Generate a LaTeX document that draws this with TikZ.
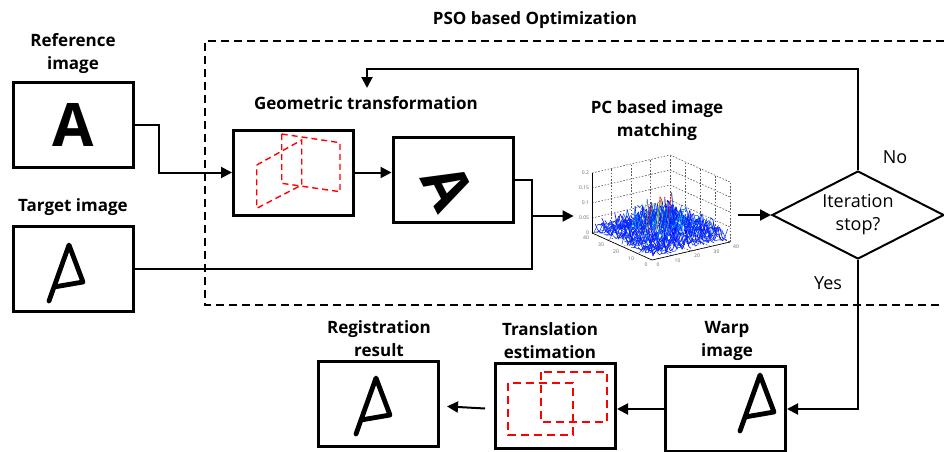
\documentclass[tikz,border=0pt]{standalone}
\usepackage{fontspec}
\setmainfont{Open Sans}
\usetikzlibrary{calc,positioning,arrows.meta,shapes.geometric}

\tikzset{
  imgbox/.style={draw, line width=1.5pt, minimum width=60pt, minimum height=42.5pt, inner sep=0pt},
  head/.style={font=\bfseries\fontsize{8.5}{11.5}\selectfont, align=center},
  plain/.style={font=\fontsize{9}{11.5}\selectfont, align=center},
  bigA/.style={font=\bfseries\fontsize{30}{30}\selectfont, inner sep=0pt},
  link/.style={line width=1pt},
  arr/.style={link, -{Triangle[length=5.5pt,width=5.5pt]}},
  psoframe/.style={line width=1pt, dash pattern=on 4pt off 2.5pt},
  warpdash/.style={red, line width=0.7pt, dash pattern=on 3pt off 2pt},
  shiftdash/.style={red, line width=1.2pt, dash pattern=on 4pt off 2.5pt},
  gridl/.style={gray!70!black, line width=0.3pt, dash pattern=on 0.8pt off 0.8pt},
  tick/.style={font=\fontsize{2.5}{3}\selectfont, text=gray!80!black, inner sep=0.3pt},
  handA/.pic={\draw[line width=2.4pt, line cap=round, line join=round]
      (-17,28) -- (3,-28) -- (17,9) -- (-12,14);}
}

\begin{document}
\begin{tikzpicture}[x=0.5pt, y=-0.5pt]
\useasboundingbox (0,0) rectangle (944,451);
\clip (0,0) rectangle (944,451);

% optimisation loop frame
\draw[psoframe] (944,41) -- (205,41) -- (205,305) -- (944,305);
\node[head] (psol) at (535,20) {PSO based Optimization};

% input images
\node[head] (refl) at (73,54) {Reference\\image};
\node[imgbox, bigA] (ref) at (73,125) {A};
\node[head] (tgtl) at (73,207) {Target image};
\node[imgbox] (tgt) at (73.5,268.5) {};
\pic (tgtA) at (66,273) {handA};

% geometric transformation
\node[head] (geol) at (366,103) {Geometric transformation};
\node[imgbox] (geo) at (293.5,172.5) {};
\begin{scope}[shift={(geo.center)}]
  \draw[warpdash] (-36.8,-7.5) -- (8.2,-32.5) -- (8.2,12.5) -- (-36.8,35.8) -- cycle;
  \draw[warpdash] (-11.8,-38.5) -- (46.5,-29.8) -- (46.5,19.2) -- (-11.8,10.8) -- cycle;
\end{scope}
\node[imgbox] (rot) at (453,179.5) {};
\node[bigA, rotate=-63] (rotA) at (448,187) {A};

% PC surface
\node[head] (pcl) at (657,121) {PC based image\\matching};
\node[minimum width=82pt, minimum height=58pt, inner sep=0pt] (pc) at (656,210) {};
\begin{scope}[shift={(pc.center)}]
  \coordinate (L) at (-64,23);
  \coordinate (B) at (14,5);
  \coordinate (R) at (74,32);
  \coordinate (F) at (-4,50);
  \foreach \z in {0,15,30,45,60}
    \draw[gridl] ($(L)+(0,-\z)$) -- ($(B)+(0,-\z)$) -- ($(R)+(0,-\z)$);
  \foreach \t in {0,0.25,0.5,0.75,1}{
    \draw[gridl] ($(L)!\t!(B)$) -- ++(0,-60);
    \draw[gridl] ($(B)!\t!(R)$) -- ++(0,-60);
    \draw[gridl] ($(L)!\t!(B)$) -- ++(60,27);
    \draw[gridl] ($(B)!\t!(R)$) -- ++(-78,18);
  }
  \draw[line width=0.3pt] (L) -- ++(0,-60);
  \draw[line width=0.3pt] (L) -- (F) -- (R);
  \foreach \lab [count=\k from 0] in {0,0.05,0.1,0.15,0.2}
    \node[tick, anchor=east] (zt\k) at ($(L)+(-2,-15*\k)$) {\lab};
  \foreach \lab [count=\k from 0] in {40,30,20,10,0}
    \node[tick] (ut\k) at ($(L)!\k/4!(F)+(-6,5)$) {\lab};
  \foreach \lab [count=\k from 0] in {0,10,20,30,40}
    \node[tick] (vt\k) at ($(F)!\k/4!(R)+(6,5)$) {\lab};
  % random mesh
  \pgfmathsetseed{11}
  \foreach \j in {1,...,23}{
    \foreach \i in {0,...,26}{
      \pgfmathsetmacro\uu{\i/26}
      \pgfmathsetmacro\vv{\j/24}
      \pgfmathsetmacro\hh{2+14*rnd^2+40*rnd^3*exp(-((\uu-0.5)^2+(\vv-0.55)^2)*10)}
      \pgfmathsetmacro\px{-64+60*\uu+78*\vv}
      \pgfmathsetmacro\py{23+27*\uu-18*\vv-\hh}
      \pgfmathtruncatemacro\ci{\hh>34 ? 3 : (\hh>27 ? 2 : (\hh>17 ? 1 : 0))}
      \edef\col{\ifcase\ci blue\or cyan!80!blue\or yellow!70!green\or red\fi}
      \ifnum\i>0
        \draw[color=\col, line width=0.3pt] (\xprev,\yprev) -- (\px,\py);
      \fi
      \xdef\xprev{\px}\xdef\yprev{\py}
    }
  }
  \foreach \i in {1,...,25}{
    \foreach \j in {0,...,24}{
      \pgfmathsetmacro\uu{\i/26}
      \pgfmathsetmacro\vv{\j/24}
      \pgfmathsetmacro\hh{2+12*rnd^2+34*rnd^3*exp(-((\uu-0.5)^2+(\vv-0.55)^2)*10)}
      \pgfmathsetmacro\px{-64+60*\uu+78*\vv}
      \pgfmathsetmacro\py{23+27*\uu-18*\vv-\hh}
      \pgfmathtruncatemacro\ci{\hh>34 ? 3 : (\hh>27 ? 2 : (\hh>17 ? 1 : 0))}
      \edef\col{\ifcase\ci blue!80!cyan\or cyan\or yellow!70!green\or red\fi}
      \ifnum\j>0
        \draw[color=\col, line width=0.25pt] (\xprev,\yprev) -- (\px,\py);
      \fi
      \xdef\xprev{\px}\xdef\yprev{\py}
    }
  }
\end{scope}

% stopping test
\node[diamond, draw, line width=1pt, aspect=2, minimum width=86pt, minimum height=44pt,
      inner sep=0pt, plain] (stop) at (858,215) {Iteration\\stop?};
\node[plain] (nol) at (895,157) {No};
\node[plain] (yesl) at (828,283) {Yes};

% output chain
\node[head] (warpl) at (727,341) {Warp\\image};
\node[imgbox] (warp) at (725.5,409) {};
\pic (warpA) at (757,403) {handA};
\node[head] (transl) at (550,341) {Translation\\estimation};
\node[imgbox] (trans) at (555.5,406) {};
\begin{scope}[shift={(trans.center)}]
  \draw[shiftdash] (-47.5,-23) rectangle (17.5,29);
  \draw[shiftdash] (-14.5,-34) rectangle (51.5,16);
\end{scope}
\node[head] (regl) at (379,339) {Registration\\result};
\node[imgbox] (reg) at (378.5,403.5) {};
\pic (regA) at (373,406) {handA};

% connectors
\coordinate (jn) at (532,216);
\coordinate (fbtop) at (367,69);
\coordinate (fb) at (367,88);
\draw[arr] (ref.east) -- ++(24.5,0) |- (geo.west);
\draw[arr] (geo.east) -- (geo.east -| rot.west);
\draw[link] (rot.east) -| (jn) |- (tgt.east);
\draw[arr] (jn) -- (jn -| pc.west);
\draw[arr] (pc.east |- stop.west) -- (stop.west);
\draw[arr] (stop.north) |- (fbtop) -- (fb);
\draw[arr] (stop.south) |- (warp.east);
\draw[arr] (warp.west) -- (warp.west -| trans.east);
\draw[arr, shorten <=4.5pt, shorten >=3.5pt] (trans.west |- warp.west) -- (trans.west -| reg.east);
\end{tikzpicture}
\end{document}
